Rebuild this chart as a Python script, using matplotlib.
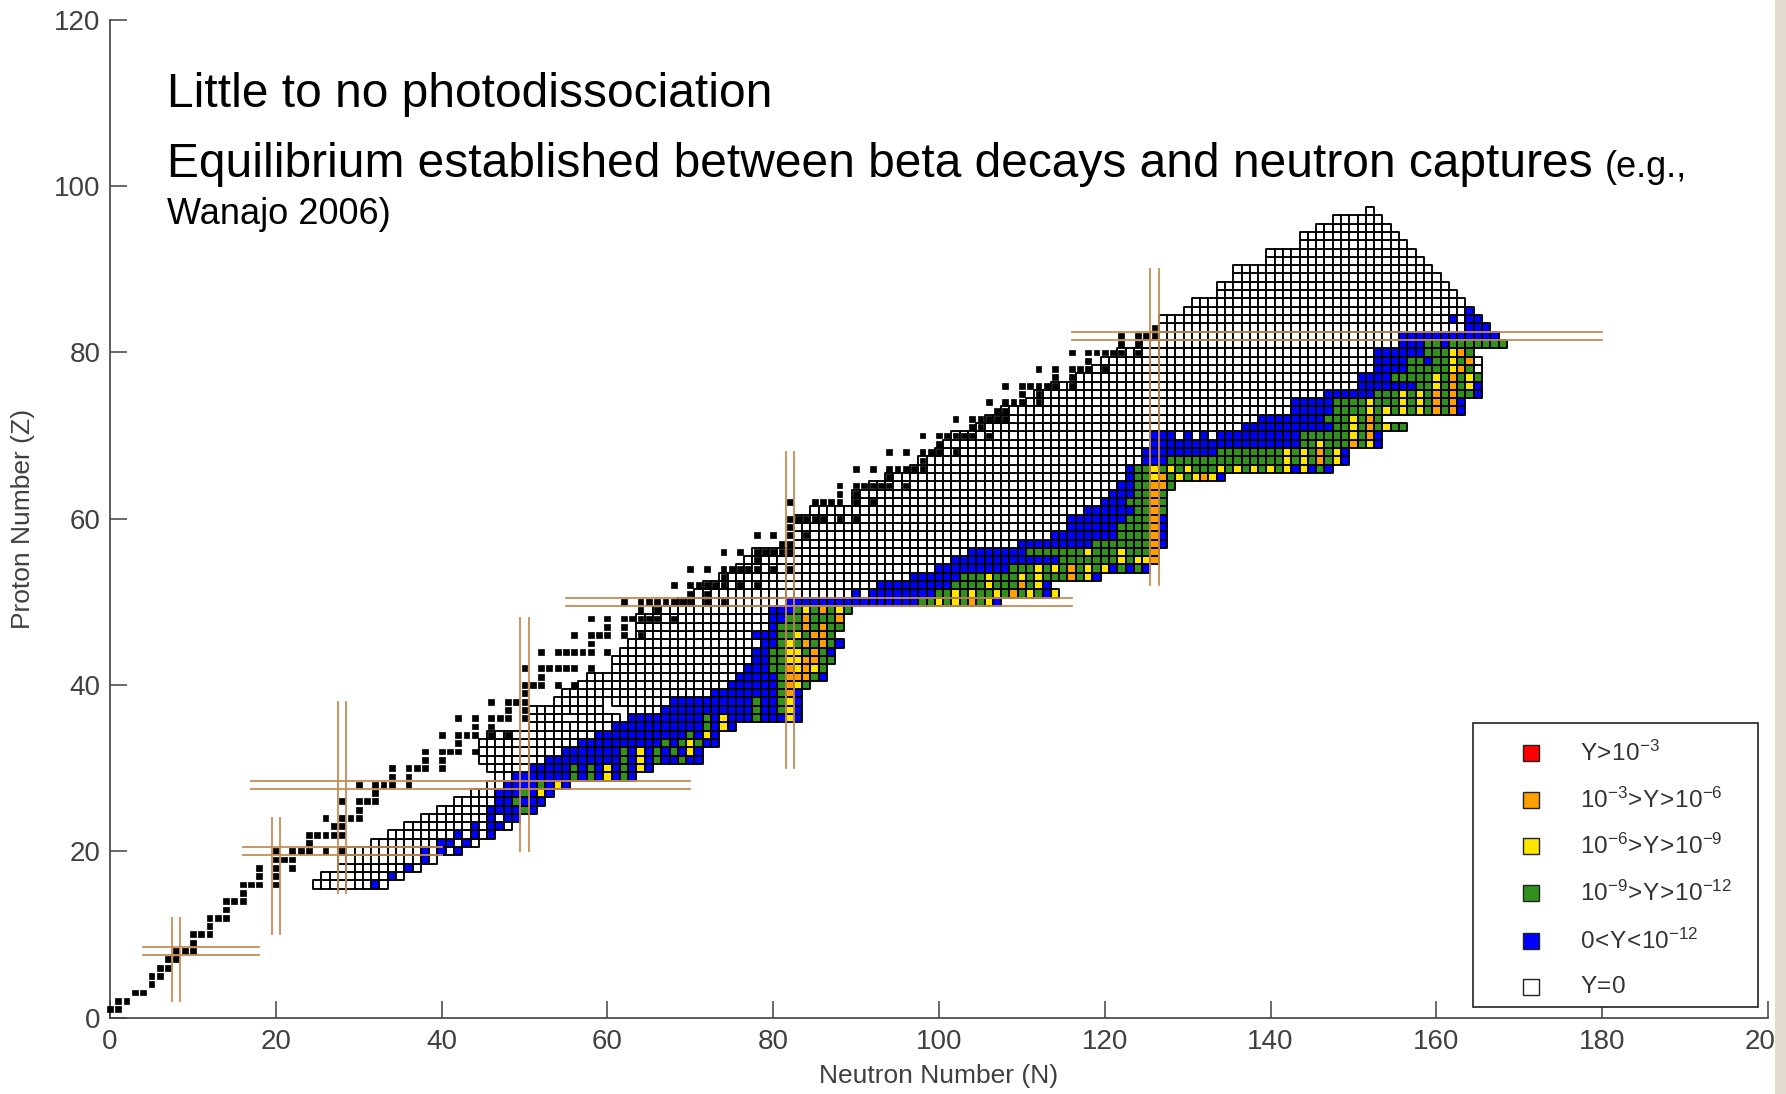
import matplotlib
matplotlib.use("Agg")
import matplotlib.pyplot as plt
from matplotlib.patches import Rectangle
from matplotlib.collections import PatchCollection

plt.rcParams["font.family"] = ["Liberation Sans", "DejaVu Sans"]
plt.rcParams["mathtext.fontset"] = "custom"
plt.rcParams["mathtext.rm"] = "Liberation Sans"

# --- network rows (one per proton number) ---------------------------------
# lo/hi: first/last neutron number of the row, cs: neutron number where the
# coloured run starts, pat: abundance class of each cell from cs onwards
# (W: Y=0, B: 0<Y<1e-12, G: 1e-9..1e-12, Y: 1e-6..1e-9, O: 1e-3..1e-6)
row_z = list(range(16, 98))
row_lo = [25, 26, 28, 28, 28, 32, 34, 36, 38, 40, 42, 44, 46,
          47, 46, 45, 45, 45, 46, 51, 51, 51, 53, 54, 57, 58, 61, 61, 62,
          63, 64, 64, 64, 66, 69, 71, 72, 74, 76, 77, 78, 83, 83, 83, 83,
          85, 90, 90, 92, 94, 97, 98, 100, 101, 102, 105, 106, 108,
          111, 112, 114, 117, 119, 120, 122, 125, 126, 127, 127, 130, 131, 134,
          134, 136, 136, 140, 140, 144, 144, 146, 148, 152]
row_hi = [33, 35, 37, 39, 42, 44, 46, 48, 49, 51, 52, 53, 55,
          63, 65, 71, 71, 73, 73, 75, 83, 83, 83, 83, 84, 86, 86, 87, 87,
          88, 87, 88, 88, 89, 107, 114, 113, 119, 125, 126, 126, 127, 127,
          127, 127, 127, 127, 127, 128, 134, 147, 149, 149, 153, 153, 156,
          153, 163, 163, 165, 165, 165, 165, 165, 164, 168, 167, 166, 165,
          164, 163, 162, 161, 160, 159, 158, 157, 156, 155, 154, 153, 152]
row_cs = [32, 34, 36, 38, 38, 40, 42, 44, 45, 46, 47, 47, 48,
          49, 51, 53, 55, 57, 59, 61, 63, 67, 68, 73, 75, 76, 77, 78, 78,
          79, 78, 80, 80, 80, 82, 90, 93, 97, 100, 102, 104, 110, 114, 116,
          116, 118, 120, 121, 122, 123, 123, 125, 125, 126, 126, 137, 139,
          143, 143, 147, 151, 151, 153, 153, 153, 156, 156, 164, 162, 164,
          0, 0, 0, 0, 0, 0, 0, 0, 0, 0, 0, 0]
row_pat = [
    "B", "B", "B", "B", "BWBWB", "BBWB", "BWBWB", "BWBBW", "WBWBB",
    "BBBBGB", "BBGBBB", "BBBGBYB", "BBBBGBYB",
    "BBBBBBBGBGBYBGB",
    "BBBBBGBGBYBGBYB",
    "BBBBBBBBBGBYBGBBGBB",
    "BBBBBBBGBYBGBGBYB",
    "BBBBBBBBBBGBGYGBB",
    "BBBBBBBBBBBGBYB",
    "BBBBBBBBBBBGBYB",
    "BBBBBBBBBGBYBBBGBBBYB",
    "BBBBBBBBBBBGBBGYB",
    "BBBBBBBBBBGBBGYB",
    "BBBBBBBBGOB",
    "BBBBBBGOYG",
    "BBBBBGOOOGB",
    "BBBGGOYOYG",
    "BBGGYYOOGG",
    "BBGGYYGOGB",
    "BBGYGOGOGB",
    "BBBGGYGOOG",
    "BGGGOGOGG",
    "BBGGOGGGO",
    "BBBGYGOGYG",
    "BBBBBBBBBBBBBBBBGGYGYGOGYB",
    "BWBBBBBBBBGGYGYGGYGOGYGBY",
    "BBBBBBBBBGGGGYGGGOGYB",
    "BBBBBBGGGYGGGYGYGGGOGYB",
    "BBBBBBBBBGGGYGYGOGYGYBGBGB",
    "BBBBBBBBBBBBBGGGGGGGYGYYO",
    "BBBBBBBGGGGGGGYGGGYGGGO",
    "BBBBBBBBBGGGGGGGOB",
    "BBBBBBBBGGGGOB",
    "BBBBBBGGGGOB",
    "BBBBBBBGGGOB",
    "BBBBBBGGOG",
    "BBBGGGOG",
    "BBBGGOG",
    "BBGGOOG",
    "BGGYOGYGYOYB",
    "BGGYGYGYGGGYGYGYGYGYBYBGB",
    "BBBGGGGGGGGGGGGGGYGYGOGYB",
    "BBBBBBBBBGGGGGGGGYGYGOGYB",
    "BBBBBBBBBBBBBBBBBBGGYGGGOGYB",
    "BBBWBWBWBBBBBBBBBBGGGGGGYGOB",
    "BBBBBBBBBBBGGYGOGYGG",
    "BBBBBBBBGGGYGOG",
    "BBBBBGGGGYGYGYGYGOGOB",
    "BBBBBGGGGYGGGYGYGOGOB",
    "BBBBBBGGGYGYGOGOGGB",
    "BBBBBBBGGYGOGYB",
    "BBBBGGGGGYGOGYG",
    "BBBBGGGGGYOGW",
    "BBBBGGBGGYGOW",
    "BBBBBBGGGYOG",
    "BBBGGBGGGGGGG",
    "BBBBBBBBBBBB",
    "BBB", "BWBB", "B",
    "", "", "", "", "", "", "", "", "", "", "", ""]

# gaps inside the network (no cell drawn)
hole_n = [52, 53, 53, 54, 55, 56, 60, 61, 62, 60, 62, 58]
hole_z = [38, 38, 39, 39, 36, 36, 37, 37, 37, 38, 36, 40]

# --- stable nuclides (black squares) ---------------------------------------
stable_z = [1, 2, 3, 4, 5, 6, 7, 8, 9, 10, 11, 12, 13, 14, 15, 16, 17, 18, 19,
            20, 21, 22, 23, 24, 25, 26, 27, 28, 29, 30, 31, 32, 33, 34, 35,
            36, 37, 38, 39, 40, 41, 42, 44, 45, 46, 47, 48, 49, 50, 51, 52,
            53, 54, 55, 56, 57, 58, 59, 60, 62, 63, 64, 65, 66, 67, 68, 69,
            70, 71, 72, 73, 74, 75, 76, 77, 78, 79, 80, 81, 82, 83]
stable_n = [[0, 1], [1, 2], [3, 4], [5], [5, 6], [6, 7], [7, 8], [8, 9, 10],
            [10], [10, 11, 12], [12], [12, 13, 14], [14], [14, 15, 16], [16],
            [16, 17, 18, 20], [18, 20], [18, 20, 22], [20, 21, 22],
            [20, 22, 23, 24, 26, 28], [24], [24, 25, 26, 27, 28], [27, 28],
            [26, 28, 29, 30], [30], [28, 30, 31, 32], [32],
            [30, 32, 33, 34, 36], [34, 36], [34, 36, 37, 38, 40], [38, 40],
            [38, 40, 41, 42, 44], [42], [40, 42, 43, 44, 46, 48], [44, 46],
            [42, 44, 46, 47, 48, 50], [48, 50], [46, 48, 49, 50], [50],
            [50, 51, 52, 54, 56], [52], [50, 52, 53, 54, 55, 56, 58],
            [52, 54, 55, 56, 57, 58, 60], [58], [56, 58, 59, 60, 62, 64],
            [60, 62], [58, 60, 62, 63, 64, 65, 66, 68], [64, 66],
            [62, 64, 65, 66, 67, 68, 69, 70, 72, 74], [70, 72],
            [68, 70, 71, 72, 73, 74, 76, 78], [74],
            [70, 72, 74, 75, 76, 77, 78, 80, 82], [78],
            [74, 76, 78, 79, 80, 81, 82], [81, 82], [78, 80, 82, 84], [82],
            [82, 83, 84, 85, 86, 88, 90], [82, 85, 86, 87, 88, 90, 92],
            [88, 90], [88, 90, 91, 92, 93, 94, 96], [94],
            [90, 92, 94, 95, 96, 97, 98], [98], [94, 96, 98, 99, 100, 102],
            [100], [98, 100, 101, 102, 103, 104, 106], [104, 105],
            [102, 104, 105, 106, 107, 108], [107, 108],
            [106, 108, 109, 110, 112], [110, 112],
            [108, 110, 111, 112, 113, 114, 116], [114, 116],
            [112, 114, 116, 117, 118, 120], [118],
            [116, 118, 119, 120, 121, 122, 124], [122, 124],
            [122, 124, 125, 126], [126]]

# --- magic numbers (double tan lines) --------------------------------------
magic_n = [8, 20, 28, 50, 82, 126]
magic_n_zlo = [2, 10, 15, 20, 30, 52]
magic_n_zhi = [12, 24, 38, 48, 68, 90]
magic_z = [8, 20, 28, 50, 82]
magic_z_nlo = [4, 16, 17, 55, 116]
magic_z_nhi = [18, 40, 70, 116, 180]

legend_labels = [r"$\mathregular{Y\!>\!10^{-3}}$",
                 r"$\mathregular{10^{-3}\!>\!Y\!>\!10^{-6}}$",
                 r"$\mathregular{10^{-6}\!>\!Y\!>\!10^{-9}}$",
                 r"$\mathregular{10^{-9}\!>\!Y\!>\!10^{-12}}$",
                 r"$\mathregular{0\!<\!Y\!<\!10^{-12}}$",
                 r"$\mathregular{Y\!=\!0}$"]
legend_codes = ["R", "O", "Y", "G", "B", "W"]

colors = {"W": "white", "B": "#0000ff", "G": "#32901e", "Y": "#ffe600",
          "O": "#ffa000", "R": "#ff0000"}
line_col = "#c68c56"
axis_col = "#404040"

fig = plt.figure(figsize=(17.86, 10.94), dpi=100)
ax = fig.add_axes([0.0616, 0.0699, 0.9283, 0.9119])
ax.set_xlim(0, 200)
ax.set_ylim(0, 120)

# network cells
holes = set(zip(hole_n, hole_z))
cells, fcs = [], []
for z, lo, hi, cs, pat in zip(row_z, row_lo, row_hi, row_cs, row_pat):
    for n in range(lo, hi + 1):
        if (n, z) in holes:
            continue
        k = n - cs
        code = pat[k] if 0 <= k < len(pat) else "W"
        cells.append(Rectangle((n - 0.5, z - 0.5), 1, 1))
        fcs.append(colors[code])
ax.add_collection(PatchCollection(cells, facecolors=fcs, edgecolors="black",
                                  linewidths=1.35, zorder=2))

# stable nuclides on top
dots = []
for z, ns in zip(stable_z, stable_n):
    for n in ns:
        dots.append(Rectangle((n - 0.35, z - 0.35), 0.7, 0.7))
ax.add_collection(PatchCollection(dots, facecolors="black", edgecolors="black",
                                  linewidths=0.5, zorder=3, clip_on=False))

# magic number lines
for m, a, b in zip(magic_n, magic_n_zlo, magic_n_zhi):
    for d in (-0.5, 0.5):
        ax.plot([m + d, m + d], [a, b], color=line_col, lw=1.3, zorder=4)
for m, a, b in zip(magic_z, magic_z_nlo, magic_z_nhi):
    for d in (-0.5, 0.5):
        ax.plot([a, b], [m + d, m + d], color=line_col, lw=1.3, zorder=4)

# axes styling (MATLAB look)
ax.spines[["top", "right"]].set_visible(False)
for s in ("left", "bottom"):
    ax.spines[s].set_color(axis_col)
    ax.spines[s].set_linewidth(1.2)
ax.set_xticks(range(0, 201, 20))
ax.set_yticks(range(0, 121, 20))
ax.tick_params(direction="in", length=12, width=1.1, color=axis_col,
               labelsize=20, labelcolor=axis_col)
ax.tick_params(axis="x", pad=8)
ax.tick_params(axis="y", pad=7)
ax.set_xlabel("Neutron Number (N)", fontsize=19, color=axis_col)
ax.set_ylabel("Proton Number (Z)", fontsize=19, color=axis_col)
ax.xaxis.set_label_coords(0.5, -0.047)
ax.yaxis.set_label_coords(-0.045, 0.5)

# legend drawn by hand to match the boxed MATLAB legend
x0, y0, x1, y1 = 0.822, 0.0105, 0.994, 0.295
ax.add_patch(Rectangle((x0, y0), x1 - x0, y1 - y0, transform=ax.transAxes,
                       facecolor="white", edgecolor="#222222", lw=1.2,
                       zorder=6, clip_on=False))
row_y = [0.2651, 0.2180, 0.1719, 0.1248, 0.0767, 0.0306]
for yy, code, lab in zip(row_y, legend_codes, legend_labels):
    ax.plot([0.857], [yy], "s", transform=ax.transAxes, ms=12,
            mfc=colors[code], mec="#222222", mew=1.0, zorder=7, clip_on=False)
    ax.text(0.8866, yy, lab, transform=ax.transAxes, fontsize=17.5,
            color="#333333", va="center", ha="left", zorder=7)

# header text
fig.text(0.0935, 0.9022, "Little to no photodissociation", fontsize=34.5,
         color="black", va="baseline")
t2 = fig.text(0.0935, 0.8382,
              "Equilibrium established between beta decays and neutron captures",
              fontsize=34.5, color="black", va="baseline")
fig.canvas.draw()
bb = t2.get_window_extent(renderer=fig.canvas.get_renderer())
fig.text((bb.x1 + 12) / fig.bbox.width, 0.8382, "(e.g.,", fontsize=26,
         color="black", va="baseline")
fig.text(0.0935, 0.7952, "Wanajo 2006)", fontsize=26, color="black",
         va="baseline")

# slide background strip at the right edge
fig.patches.append(Rectangle((0.9938, 0), 0.0062, 1, transform=fig.transFigure,
                             facecolor="#e2ddd0", edgecolor="none", zorder=5))

fig.savefig("out.png", dpi=100)
